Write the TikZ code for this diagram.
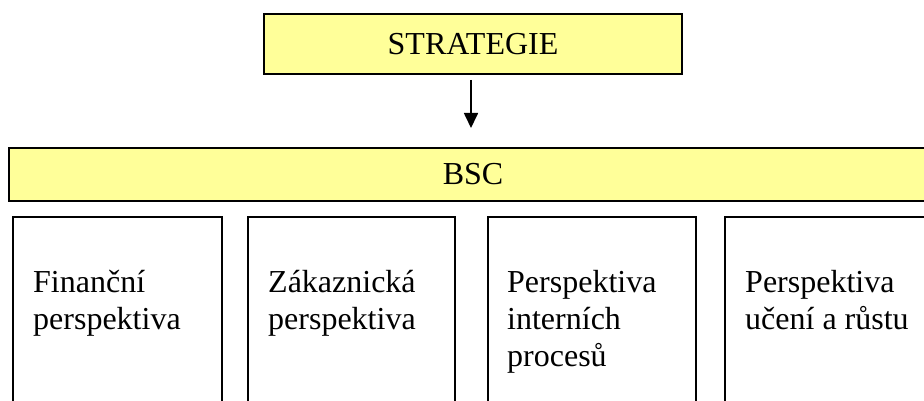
\documentclass[tikz,border=0pt]{standalone}
\usepackage{fontspec}
\setmainfont{Liberation Serif}
\usetikzlibrary{arrows.meta}
\definecolor{paleyellow}{HTML}{FFFF99}
\begin{document}
\begin{tikzpicture}[x=1pt,y=-1pt,
  yellowbox/.style={draw=black,line width=1.8pt,fill=paleyellow,inner sep=0pt,
    font=\fontsize{32}{37}\selectfont},
  perspbox/.style={draw=black,line width=1.7pt,fill=white,inner sep=0pt,anchor=north west},
  persptext/.style={anchor=north west,inner sep=0pt,align=left,
    font=\fontsize{32}{37}\selectfont},
  arr/.style={line width=1.7pt,-{Triangle[width=14pt,length=15pt]}}]
\useasboundingbox (0,0) rectangle (924,401);
\clip (0,0) rectangle (924,401);

% top box and the BSC bar
\node[yellowbox,minimum width=418pt,minimum height=60pt] (strat) at (473,44) {STRATEGIE};
\node[yellowbox,minimum width=940pt,minimum height=53pt,anchor=north west] (bsc) at (8,147) {};
\node (bsclabel) at (473,174) {\fontsize{32}{37}\selectfont BSC};

% arrow from strategy down to the bar
\draw[arr,shorten <=5pt,shorten >=19pt] ([xshift=-2pt]strat.south) -- ([xshift=-2pt]strat.south |- bsc.north);

% four perspective boxes
\node[perspbox,minimum width=209pt,minimum height=220pt] (p1) at (12,216) {};
\node[perspbox,minimum width=207pt,minimum height=220pt] (p2) at (247,216) {};
\node[perspbox,minimum width=208pt,minimum height=220pt] (p3) at (487,216) {};
\node[perspbox,minimum width=240pt,minimum height=220pt] (p4) at (724,216) {};

\node[persptext] (t1) at (33,270) {Finanční\\perspektiva};
\node[persptext] (t2) at (268,270) {Zákaznická\\perspektiva};
\node[persptext] (t3) at (507,270) {Perspektiva\\interních\\procesů};
\node[persptext] (t4) at (745,270) {Perspektiva\\učení a růstu};
\end{tikzpicture}
\end{document}
